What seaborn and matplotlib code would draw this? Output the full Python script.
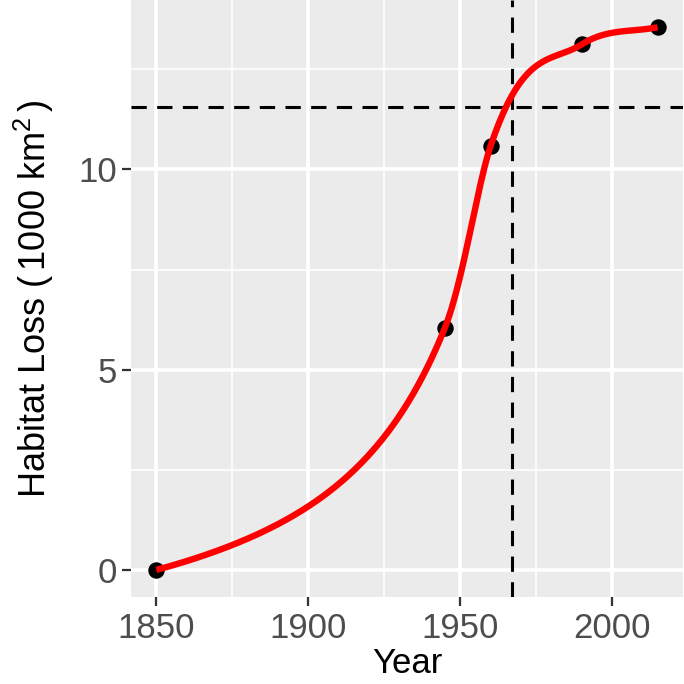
import numpy as np
import pandas as pd
import matplotlib
matplotlib.use("Agg")
import matplotlib.pyplot as plt
import seaborn as sns

# data
years = [1850, 1945, 1960, 1990, 2015]
loss = [0.0, 6.05, 10.58, 13.12, 13.55]
vline_year = 1967
hline_loss = 11.55


def mono_curve(x, y, n=400):
    # monotone cubic (Fritsch-Carlson) through the points, done on log(1+y)
    x = np.asarray(x, float)
    z = np.log1p(np.asarray(y, float))
    h = np.diff(x)
    d = np.diff(z) / h
    m = np.empty(len(x))
    m[0], m[-1] = d[0], d[-1]
    m[1:-1] = (d[:-1] + d[1:]) / 2
    for k in range(len(d)):
        a, b = m[k] / d[k], m[k + 1] / d[k]
        if a * a + b * b > 9:
            tau = 3 / np.sqrt(a * a + b * b)
            m[k], m[k + 1] = tau * a * d[k], tau * b * d[k]
    xs = np.linspace(x[0], x[-1], n)
    i = np.clip(np.searchsorted(x, xs) - 1, 0, len(x) - 2)
    t = (xs - x[i]) / h[i]
    h00 = 2 * t**3 - 3 * t**2 + 1
    h10 = t**3 - 2 * t**2 + t
    h01 = -2 * t**3 + 3 * t**2
    h11 = t**3 - t**2
    zs = h00 * z[i] + h10 * h[i] * m[i] + h01 * z[i + 1] + h11 * h[i] * m[i + 1]
    return xs, np.expm1(zs)


pts = pd.DataFrame({"Year": years, "Loss": loss})
sx, sy = mono_curve(years, loss)
curve = pd.DataFrame({"Year": sx, "Loss": sy})

sns.set_theme(style="darkgrid", rc={
    "axes.facecolor": "#EBEBEB",
    "grid.color": "white",
})
plt.rcParams["font.family"] = ["Liberation Sans", "DejaVu Sans"]
plt.rcParams["mathtext.fontset"] = "custom"
plt.rcParams["mathtext.rm"] = "Liberation Sans"
plt.rcParams["mathtext.it"] = "Liberation Sans:italic"

fig = plt.figure(figsize=(6.84, 6.84), dpi=100)
ax = fig.add_axes([0.192, 0.127, 0.806, 0.873])

ax.axvline(vline_year, color="black", lw=2.2, dashes=(5, 3.4), zorder=2)
ax.axhline(hline_loss, color="black", lw=2.2, dashes=(5, 3.4), zorder=2)

sns.scatterplot(data=pts, x="Year", y="Loss", color="black", s=140,
                edgecolor="black", linewidth=0, ax=ax, zorder=3)
sns.lineplot(data=curve, x="Year", y="Loss", color="#FF0000", lw=4.6,
             ax=ax, zorder=4, solid_capstyle="butt")

ax.set_xlim(1841.75, 2023.25)
ax.set_ylim(-0.68, 14.23)
ax.set_xticks([1850, 1900, 1950, 2000])
ax.set_yticks([0, 5, 10])
ax.set_xticks([1875, 1925, 1975], minor=True)
ax.set_yticks([2.5, 7.5, 12.5], minor=True)
ax.grid(which="major", color="white", lw=2.6)
ax.grid(which="minor", color="white", lw=1.2)
for s in ax.spines.values():
    s.set_visible(False)

ax.tick_params(axis="both", which="major", labelsize=25, labelcolor="#4D4D4D",
               color="#333333", length=6.5, width=1.6, pad=4, bottom=True, left=True)
ax.tick_params(axis="both", which="minor", length=0)

ax.set_xlabel("Year", fontsize=25, color="black", labelpad=2)
ax.set_ylabel(r"Habitat Loss $(\,$1000 km$^{2}\,)$", fontsize=26, color="black", labelpad=16)

fig.savefig("out.png", dpi=100)
